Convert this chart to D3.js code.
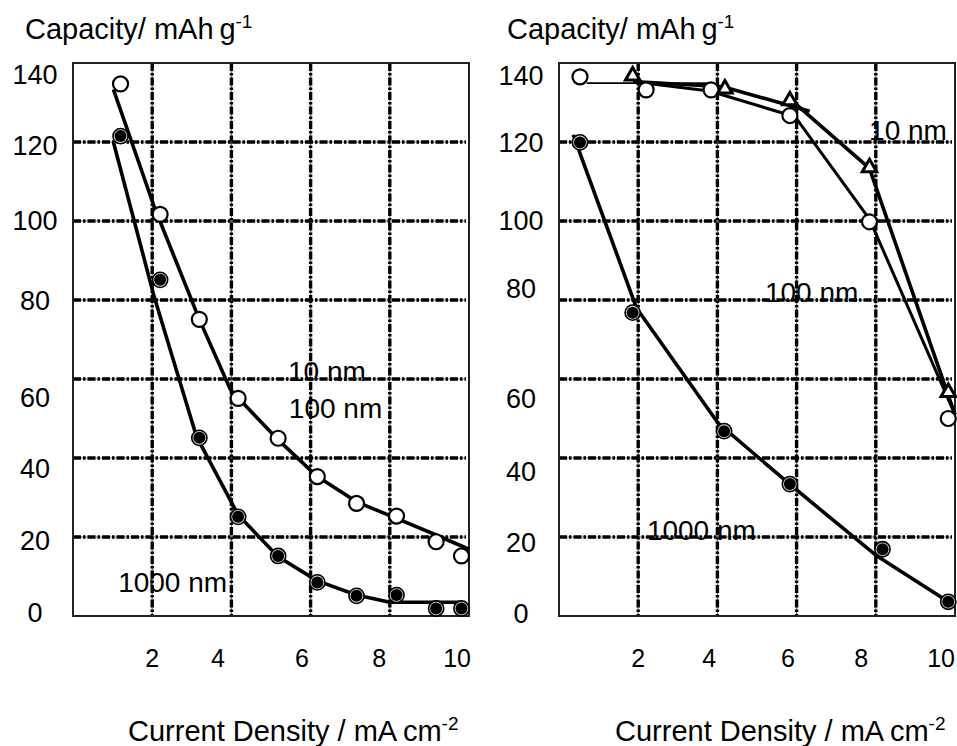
<!DOCTYPE html>
<html>
<head>
<meta charset="utf-8">
<script src="https://cdn.jsdelivr.net/npm/d3@7"></script>
<style>
  body { margin: 0; background: #fff; }
  text { font-family: "Liberation Sans", Arial, sans-serif; fill: #000; }
</style>
</head>
<body>
<div id="chart"></div>
<script>
// ---- data ----
// left panel
var leftX = [1.2, 2.2, 3.19, 4.17, 5.18, 6.17, 7.16, 8.17, 9.17, 9.81];
var leftOpen = [134.7, 101.7, 75.1, 55.1, 45.0, 35.3, 28.5, 25.3, 18.8, 15.2];
var leftFilled = [121.5, 85.1, 45.1, 25.1, 15.2, 8.5, 5.1, 5.3, 1.9, 1.9];
// hand drawn curves through the points
var leftOpenLineX = [1.02, 2.05, 3.19, 3.98, 5.18, 6.17, 7.16, 8.17, 9.17, 10.0];
var leftOpenLineY = [133.3, 103.6, 75.1, 57.2, 44.6, 35.3, 28.9, 24.7, 20.5, 16.9];
var leftFilledLineX = [1.02, 2.05, 3.12, 4.17, 5.18, 6.17, 7.16, 8.0, 9.77];
var leftFilledLineY = [120, 80.8, 45.4, 25.6, 15.0, 8.9, 5.3, 3.5, 3.5];

// right panel
var rightOpenX = [0.53, 2.2, 3.84, 5.83, 7.84, 9.83];
var rightOpen = [136.5, 133.2, 133.2, 126.7, 99.8, 50.0];
var rightTriX = [1.86, 4.19, 5.83, 7.84, 9.83];
var rightTri = [136.5, 133.2, 130.2, 113.3, 56.4];
var rightFilledX = [0.53, 1.86, 4.17, 5.83, 8.17, 9.83];
var rightFilled = [119.9, 76.8, 46.8, 33.4, 16.9, 3.6];
var right1000LineX = [0.36, 1.96, 4.02, 6.0, 8.0, 9.96];
var right1000LineY = [121.8, 77.9, 48.8, 31.9, 15.4, 2.8];
var right10LineAX = [1.87, 4.14, 6.33];
var right10LineAY = [135.3, 134.0, 127.8];
var right10LineBX = [5.96, 7.84, 10.0];
var right10LineBY = [129.8, 113.3, 51];
var right100ThinX = [0.7, 3.8];
var right100ThinY = [134.9, 134.9];
var right100LineX = [2.2, 3.8, 5.96, 7.84, 10.0];
var right100LineY = [134.9, 132.9, 126.4, 100.5, 51];

// tick labels (they sit where the original put them, not on the grid)
var xTickText = ["2", "4", "6", "8", "10"];
var xTickPosLeft = [2.0, 3.66, 5.78, 7.73, 9.70];
var xTickPosRight = [2.0, 3.79, 5.78, 7.63, 9.65];
var yTickText = ["140", "120", "100", "80", "60", "40", "20", "0"];
var yTickPosLeft = [137.2, 119.2, 100.2, 80, 55.4, 37.5, 19.2, 1.0];
var yTickPosRight = [136.9, 120, 100.2, 83, 55.2, 36.7, 18.7, 0.8];
var xGrid = [2, 4, 6, 8];
var yGrid = [20, 40, 60, 80, 100, 120];

// in-plot labels, anchored in data units (left edge, baseline)
var leftLabels = [["10 nm", 5.43, 59.5], ["100 nm", 5.45, 50.1], ["1000 nm", 1.14, 6.1]];
var rightLabels = [["10 nm", 7.83, 120.5], ["100 nm", 5.2, 79.5], ["1000 nm", 2.22, 19.2]];

var W = 957, H = 746;
var plotW = 396, plotH = 553, plotTop = 63;

var svg = d3.select("#chart").append("svg")
    .attr("width", W)
    .attr("height", H);

function zip(xs, ys) {
  var out = [];
  for (var i = 0; i < xs.length; i++) out.push([xs[i], ys[i]]);
  return out;
}

function drawPanel(panelLeft, p) {
  var x = d3.scaleLinear().domain([0, 10]).range([0, plotW]);
  var y = d3.scaleLinear().domain([0, 140]).range([plotH, 0]);

  var g = svg.append("g").attr("transform", "translate(" + panelLeft + "," + plotTop + ")");

  // labels go under the grid (grid is drawn over them in the original)
  p.labels.forEach(function (l) {
    g.append("text")
      .attr("x", x(l[1]))
      .attr("y", y(l[2]))
      .attr("font-size", 28)
      .text(l[0]);
  });

  // grid: thick dash-dot lines
  function gridLine(x1, y1, x2, y2) {
    g.append("line")
      .attr("x1", x1).attr("y1", y1).attr("x2", x2).attr("y2", y2)
      .attr("stroke", "#777").attr("stroke-width", 1.2);
    g.append("line")
      .attr("x1", x1).attr("y1", y1).attr("x2", x2).attr("y2", y2)
      .attr("stroke", "#000").attr("stroke-width", 3.4)
      .attr("stroke-dasharray", "8,2,2.5,2");
  }
  xGrid.forEach(function (v) { gridLine(x(v), 0, x(v), plotH); });
  yGrid.forEach(function (v) { gridLine(0, y(v), plotW - 3, y(v)); });

  // frame
  g.append("rect")
    .attr("width", plotW).attr("height", plotH)
    .attr("fill", "none").attr("stroke", "#222").attr("stroke-width", 2);

  // curves
  var line = d3.line().x(function (d) { return x(d[0]); }).y(function (d) { return y(d[1]); });
  p.lines.forEach(function (l) {
    g.append("path")
      .attr("d", line(zip(l[0], l[1])))
      .attr("fill", "none")
      .attr("stroke", "#000")
      .attr("stroke-width", l[2])
      .attr("stroke-linejoin", "round");
  });

  // markers
  g.selectAll(".open").data(zip(p.openX, p.open)).enter().append("circle")
    .attr("cx", function (d) { return x(d[0]); })
    .attr("cy", function (d) { return y(d[1]); })
    .attr("r", 7.5)
    .attr("fill", "#fff").attr("stroke", "#000").attr("stroke-width", 2.2);

  var filled = g.selectAll(".filled").data(zip(p.filledX, p.filled)).enter().append("g")
    .attr("transform", function (d) { return "translate(" + x(d[0]) + "," + y(d[1]) + ")"; });
  filled.append("circle").attr("r", 7.6).attr("fill", "#ddd").attr("stroke", "#000").attr("stroke-width", 1.6);
  filled.append("circle").attr("r", 6).attr("fill", "#000");

  if (p.triX) {
    g.selectAll(".tri").data(zip(p.triX, p.tri)).enter().append("path")
      .attr("d", d3.symbol(d3.symbolTriangle, 90))
      .attr("transform", function (d) { return "translate(" + x(d[0]) + "," + (y(d[1]) - 1) + ")"; })
      .attr("fill", "#fff").attr("stroke", "#000").attr("stroke-width", 3)
      .attr("stroke-linejoin", "miter");
  }

  // tick labels
  yTickText.forEach(function (t, i) {
    g.append("text")
      .attr("x", -38)
      .attr("y", y(p.yTickPos[i]))
      .attr("dy", "0.36em")
      .attr("text-anchor", "middle")
      .attr("font-size", 27)
      .text(t);
  });
  xTickText.forEach(function (t, i) {
    g.append("text")
      .attr("x", x(p.xTickPos[i]))
      .attr("y", plotH + 51)
      .attr("text-anchor", "middle")
      .attr("font-size", 25)
      .text(t);
  });

  // axis titles
  var yt = g.append("text").attr("x", p.yTitleX).attr("y", -24).attr("font-size", 29);
  yt.append("tspan").text("Capacity/ mAh\u2009g");
  yt.append("tspan").attr("dy", -11).attr("font-size", 19).text("-1");

  var xt = g.append("text").attr("x", p.xTitleX).attr("y", plotH + 125).attr("font-size", 29);
  xt.append("tspan").text("Current Density / mA\u2009cm");
  xt.append("tspan").attr("dy", -11).attr("font-size", 19).text("-2");
}

drawPanel(73, {
  openX: leftX, open: leftOpen,
  filledX: leftX, filled: leftFilled,
  lines: [[leftOpenLineX, leftOpenLineY, 3.6], [leftFilledLineX, leftFilledLineY, 3.6]],
  labels: leftLabels,
  xTickPos: xTickPosLeft, yTickPos: yTickPosLeft,
  yTitleX: -48, xTitleX: 55
});

drawPanel(559, {
  openX: rightOpenX, open: rightOpen,
  filledX: rightFilledX, filled: rightFilled,
  triX: rightTriX, tri: rightTri,
  lines: [[right100ThinX, right100ThinY, 1.8], [right1000LineX, right1000LineY, 3.6],
          [right10LineAX, right10LineAY, 3.6], [right10LineBX, right10LineBY, 3.6],
          [right100LineX, right100LineY, 3]],
  labels: rightLabels,
  xTickPos: xTickPosRight, yTickPos: yTickPosRight,
  yTitleX: -52, xTitleX: 56
});
</script>
</body>
</html>
